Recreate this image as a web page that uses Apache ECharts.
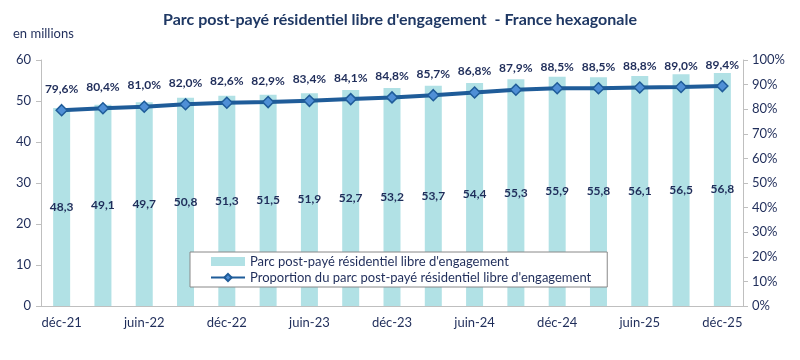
<!DOCTYPE html>
<html><head><meta charset="utf-8">
<script src="https://cdn.jsdelivr.net/npm/echarts@6/dist/echarts.min.js"></script>
<style>html,body{margin:0;padding:0;background:#fff}#c{width:800px;height:360px}</style>
</head><body><div id="c"></div>
<script>
const categories = ['déc-21','mars-22','juin-22','sept-22','déc-22','mars-23','juin-23','sept-23','déc-23','mars-24','juin-24','sept-24','déc-24','mars-25','juin-25','sept-25','déc-25'];
const parcValues = [48.3,49.1,49.7,50.8,51.3,51.5,51.9,52.7,53.2,53.7,54.4,55.3,55.9,55.8,56.1,56.5,56.8];
const proportionValues = [79.6,80.4,81.0,82.0,82.6,82.9,83.4,84.1,84.8,85.7,86.8,87.9,88.5,88.5,88.8,89.0,89.4];
const barName = "Parc post-payé résidentiel libre d'engagement";
const lineName = "Proportion du parc post-payé résidentiel libre d'engagement";
const font = 'Lato';
const navy = '#1f2d5a';
const chart = echarts.init(document.getElementById('c'));
chart.setOption({
  animation: false,
  textStyle: {fontFamily: font},
  title: {
    text: "Parc post-payé résidentiel libre d'engagement  - France hexagonale",
    left: 'center', top: 7,
    textStyle: {fontFamily: font, fontSize: 16, fontWeight: 'bold', color: '#1f3864'}
  },
  graphic: [{type: 'text', left: 13, top: 27, style: {text: 'en millions', fontFamily: font, fontSize: 13, fill: navy}}],
  grid: {left: 41, right: 57, top: 60, bottom: 54},
  legend: {
    orient: 'vertical', left: 190, top: 252,
    backgroundColor: '#fff', borderColor: '#888', borderWidth: 1,
    padding: [3, 16, 3, 20], itemGap: 3, itemWidth: 34, itemHeight: 9,
    textStyle: {fontFamily: font, fontSize: 13, color: navy},
    data: [{name: barName, icon: 'rect'}, {name: lineName}]
  },
  xAxis: {
    type: 'category', data: categories, boundaryGap: true,
    axisLine: {lineStyle: {color: '#bfbfbf'}},
    axisTick: {interval: 1, length: 5, lineStyle: {color: '#bfbfbf'}},
    axisLabel: {interval: 1, color: navy, fontSize: 13, margin: 10, fontFamily: font}
  },
  yAxis: [{
    type: 'value', min: 0, max: 60, interval: 10,
    splitLine: {show: false},
    axisLine: {show: true, lineStyle: {color: '#bfbfbf'}},
    axisTick: {show: true, length: 5, lineStyle: {color: '#bfbfbf'}},
    axisLabel: {color: navy, fontSize: 13, margin: 10, fontFamily: font}
  }, {
    type: 'value', min: 0, max: 100, interval: 10, position: 'right',
    splitLine: {show: false},
    axisLine: {show: true, lineStyle: {color: '#bfbfbf'}},
    axisTick: {show: true, length: 5, lineStyle: {color: '#bfbfbf'}},
    axisLabel: {color: navy, fontSize: 13, margin: 9, fontFamily: font, formatter: v => v + '%'}
  }],
  series: [{
    name: barName, type: 'bar', data: parcValues, yAxisIndex: 0, barWidth: 17,
    itemStyle: {color: '#b1e1e5'},
    label: {show: true, position: 'inside', color: navy, fontWeight: 'bold', fontSize: 12, fontFamily: font,
      formatter: p => p.value.toFixed(1).replace('.', ',')}
  }, {
    name: lineName, type: 'line', data: proportionValues, yAxisIndex: 1,
    symbol: 'diamond', symbolSize: 11,
    lineStyle: {color: '#1f5c99', width: 4},
    itemStyle: {color: '#4f8fd6', borderColor: '#1f5c99', borderWidth: 1.5},
    label: {show: true, position: 'top', distance: 9, color: navy, fontWeight: 'bold', fontSize: 12, fontFamily: font,
      formatter: p => p.value.toFixed(1).replace('.', ',') + '%'}
  }]
});
</script></body></html>
